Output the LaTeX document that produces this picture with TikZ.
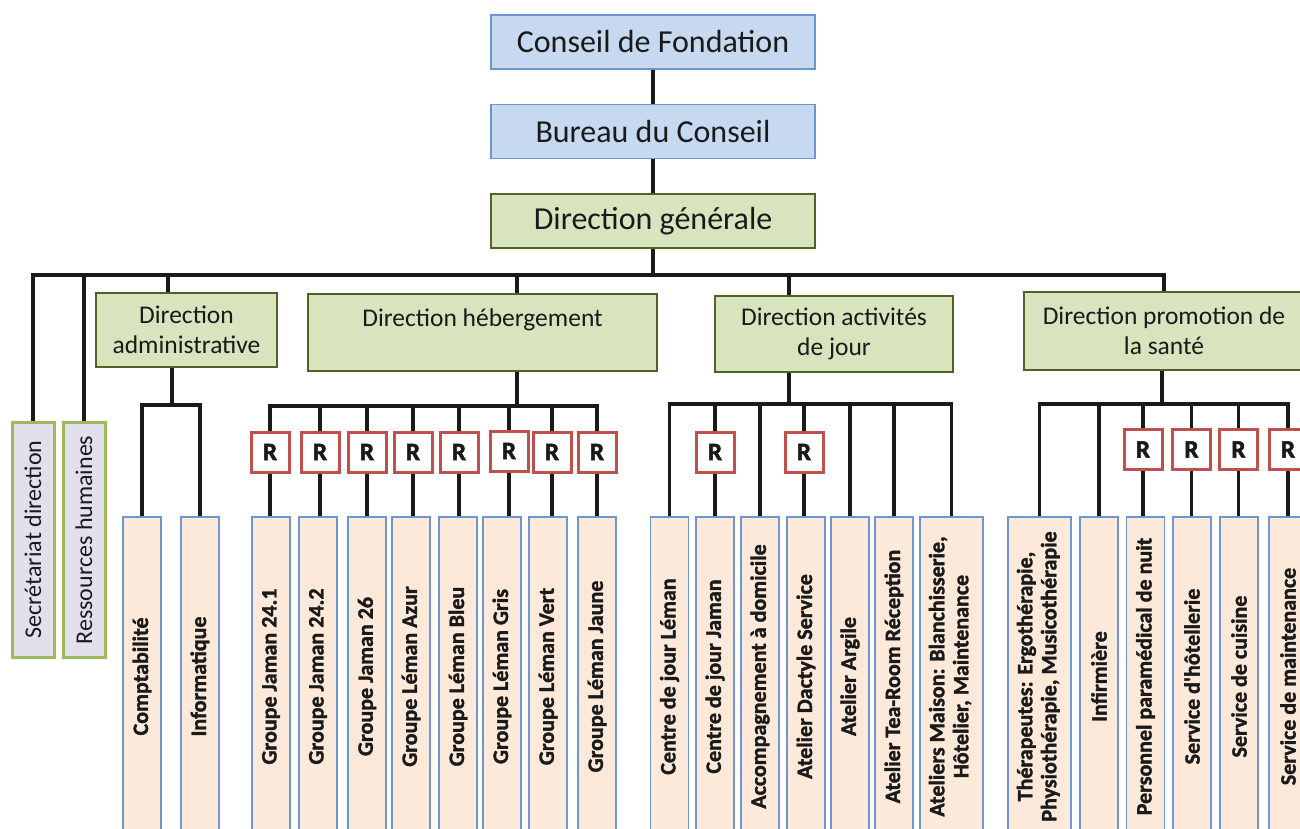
\documentclass[tikz,border=0pt]{standalone}
\usepackage{fontspec}
\setmainfont{Carlito}
\newfontfamily\unitfont{Carlito}[BoldFeatures={FakeBold=1.6}]
\newfontfamily\markfont{Carlito}[BoldFeatures={FakeBold=2.2}]
\usepackage{graphicx}
\definecolor{boardfill}{HTML}{C6D9F1}
\definecolor{boardline}{HTML}{6D94CC}
\definecolor{headfill}{HTML}{D7E4BD}
\definecolor{headline}{HTML}{4F6228}
\definecolor{stafffill}{HTML}{E4DFEC}
\definecolor{staffline}{HTML}{9BBB59}
\definecolor{unitfill}{HTML}{FDE9D9}
\definecolor{unitline}{HTML}{6E96CF}
\definecolor{rline}{HTML}{C0504D}
\definecolor{txt}{HTML}{1A1A1A}

\begin{document}
\begin{tikzpicture}[x=1pt,y=-1pt,
  board/.style={draw=boardline,fill=boardfill,line width=1.2pt,minimum width=324pt,minimum height=54pt,inner sep=0pt,font=\fontsize{32}{38}\selectfont,text=txt},
  chief/.style={board,draw=headline,fill=headfill,line width=2.5pt},
  headbox/.style={draw=headline,fill=headfill,line width=2.5pt,inner sep=0pt,align=center,font=\fontsize{25.5}{30}\selectfont,text=txt},
  staffbox/.style={draw=staffline,fill=stafffill,line width=3pt,minimum width=42pt,minimum height=235pt,inner sep=0pt,font=\fontsize{24}{29}\selectfont,text=txt},
  unitbox/.style={draw=unitline,fill=unitfill,line width=1.2pt,minimum width=38pt,minimum height=319pt,inner sep=0pt,font=\unitfont\bfseries\fontsize{22}{24}\selectfont,text=txt},
  rbox/.style={draw=rline,fill=white,line width=3pt,minimum width=38pt,minimum height=40pt,inner sep=0pt,font=\markfont\bfseries\fontsize{25}{28}\selectfont,text=txt},
  link/.style={line width=3.5pt,draw=txt}]
  \useasboundingbox[fill=white] (0,0) rectangle (1300,829);

  \node[board] (cf) at (653,42) {Conseil de Fondation};
  \node[board] (bc) at (653,131.5) {Bureau du Conseil};
  \node[chief] (dg) at (653,221) {Direction générale};

  \node[headbox,minimum width=181pt,minimum height=74pt] (adm) at (186.5,330) {Direction\\administrative};
  \node[headbox,minimum width=349pt,minimum height=77pt] (heb) at (482.5,332.5) {Direction hébergement\\~};
  \node[headbox,minimum width=238pt,minimum height=76pt] (act) at (834,334) {Direction activités\\de jour};
  \node[headbox,minimum width=280pt,minimum height=78pt] (pro) at (1164,331) {Direction promotion de\\la santé};

  \node[staffbox] (sec) at (33,539.5) {\rotatebox{90}{Secrétariat direction}};
  \node[staffbox] (rh) at (84,540) {\rotatebox{90}{Ressources humaines}};

  \node[unitbox] (compta) at (142,676.5) {\rotatebox{90}{Comptabilité}};
  \node[unitbox] (info) at (200,676.5) {\rotatebox{90}{Informatique}};

  \node[unitbox] (jaman1) at (271,676.5) {\rotatebox{90}{Groupe Jaman 24.1}};
  \node[unitbox] (jaman2) at (318,676.5) {\rotatebox{90}{Groupe Jaman 24.2}};
  \node[unitbox] (jaman3) at (367,676.5) {\rotatebox{90}{Groupe Jaman 26}};
  \node[unitbox] (azur) at (411,676.5) {\rotatebox{90}{Groupe Léman Azur}};
  \node[unitbox] (bleu) at (458,676.5) {\rotatebox{90}{Groupe Léman Bleu}};
  \node[unitbox] (gris) at (502,676.5) {\rotatebox{90}{Groupe Léman Gris}};
  \node[unitbox] (vert) at (548,676.5) {\rotatebox{90}{Groupe Léman Vert}};
  \node[unitbox] (jaune) at (597,676.5) {\rotatebox{90}{Groupe Léman Jaune}};
  \node[rbox] (rjaman1) at (270,452) {R};
  \node[rbox] (rjaman2) at (320,452) {R};
  \node[rbox] (rjaman3) at (367,452) {R};
  \node[rbox] (razur) at (413,452) {R};
  \node[rbox] (rbleu) at (459,452) {R};
  \node[rbox] (rgris) at (509,451) {R};
  \node[rbox] (rvert) at (552,452) {R};
  \node[rbox] (rjaune) at (597,452) {R};

  \node[unitbox] (cjleman) at (669.5,676.5) {\rotatebox{90}{Centre de jour Léman}};
  \node[unitbox] (cjjaman) at (715,676.5) {\rotatebox{90}{Centre de jour Jaman}};
  \node[unitbox] (domicile) at (760,676.5) {\rotatebox{90}{Accompagnement à domicile}};
  \node[unitbox] (dactyle) at (806,676.5) {\rotatebox{90}{Atelier Dactyle Service}};
  \node[unitbox] (argile) at (850,676.5) {\rotatebox{90}{Atelier Argile}};
  \node[unitbox] (tearoom) at (894,676.5) {\rotatebox{90}{Atelier Tea-Room Réception}};
  \node[unitbox,minimum width=63pt] (maison) at (951.5,676.5) {\rotatebox{90}{\begin{tabular}{@{}c@{}}Ateliers Maison: Blanchisserie,\\Hôtelier, Maintenance\end{tabular}}};
  \node[rbox] (rcjjaman) at (715,452) {R};
  \node[rbox] (rdactyle) at (804,452) {R};

  \node[unitbox,minimum width=63pt] (therap) at (1039.5,676.5) {\rotatebox{90}{\begin{tabular}{@{}c@{}}Thérapeutes: Ergothérapie,\\Physiothérapie, Musicothérapie\end{tabular}}};
  \node[unitbox] (infirm) at (1099,676.5) {\rotatebox{90}{Infirmière}};
  \node[unitbox] (nuit) at (1145.5,676.5) {\rotatebox{90}{Personnel paramédical de nuit}};
  \node[unitbox] (hotel) at (1192,676.5) {\rotatebox{90}{Service d'hôtellerie}};
  \node[unitbox] (cuisine) at (1239,676.5) {\rotatebox{90}{Service de cuisine}};
  \node[unitbox] (maint) at (1288,676.5) {\rotatebox{90}{Service de maintenance}};
  \node[rbox] (rnuit) at (1143,449.5) {R};
  \node[rbox] (rhotel) at (1191.5,449.5) {R};
  \node[rbox] (rcuisine) at (1238.5,449.5) {R};
  \node[rbox] (rmaint) at (1288,449.5) {R};

  \coordinate (bus) at (0,275);
  \coordinate (admtop) at (168,275);
  \coordinate (hebtop) at (517,275);
  \coordinate (acttop) at (789,275);
  \coordinate (admsub) at (172,405);
  \coordinate (hebsub) at (517,406);
  \coordinate (actsub) at (789,404);
  \coordinate (prosub) at (1162,404);

  \draw[link] (cf.south) -- (bc.north);
  \draw[link] (bc.south) -- (dg.north);
  \draw[link] (dg.south) -- (dg.south |- bus);
  \draw[link] (sec.north) |- (pro.north |- bus) -- (pro.north);
  \draw[link] (rh.north) -- (rh.north |- bus);
  \draw[link] (admtop) -- (adm.north -| admtop);
  \draw[link] (hebtop) -- (heb.north -| hebtop);
  \draw[link] (acttop) -- (act.north -| acttop);

  \draw[link] (adm.south -| admsub) -- (admsub);
  \draw[link] (compta.north) |- (info.north |- admsub) -- (info.north);

  \draw[link] (heb.south -| hebsub) -- (hebsub);
  \draw[link] (rjaman1.north) |- (rjaune.north |- hebsub) -- (rjaune.north);
  \draw[link] (rjaman2.north) -- (rjaman2.north |- hebsub);
  \draw[link] (rjaman3.north) -- (rjaman3.north |- hebsub);
  \draw[link] (razur.north) -- (razur.north |- hebsub);
  \draw[link] (rbleu.north) -- (rbleu.north |- hebsub);
  \draw[link] (rgris.north) -- (rgris.north |- hebsub);
  \draw[link] (rvert.north) -- (rvert.north |- hebsub);
  \draw[link] (rjaman1.south) -- (rjaman1.south |- jaman1.north);
  \draw[link] (rjaman2.south) -- (rjaman2.south |- jaman2.north);
  \draw[link] (rjaman3.south) -- (rjaman3.south |- jaman3.north);
  \draw[link] (razur.south) -- (razur.south |- azur.north);
  \draw[link] (rbleu.south) -- (rbleu.south |- bleu.north);
  \draw[link] (rgris.south) -- (rgris.south |- gris.north);
  \draw[link] (rvert.south) -- (rvert.south |- vert.north);
  \draw[link] (rjaune.south) -- (rjaune.south |- jaune.north);

  \draw[link] (act.south -| actsub) -- (actsub);
  \draw[link] (cjleman.north) |- (maison.north |- actsub) -- (maison.north);
  \draw[link] (rcjjaman.north) -- (rcjjaman.north |- actsub);
  \draw[link] (rcjjaman.south) -- (rcjjaman.south |- cjjaman.north);
  \draw[link] (domicile.north) -- (domicile.north |- actsub);
  \draw[link] (rdactyle.north) -- (rdactyle.north |- actsub);
  \draw[link] (rdactyle.south) -- (rdactyle.south |- dactyle.north);
  \draw[link] (argile.north) -- (argile.north |- actsub);
  \draw[link] (tearoom.north) -- (tearoom.north |- actsub);

  \draw[link] (pro.south -| prosub) -- (prosub);
  \draw[link] (therap.north) |- (rmaint.north |- prosub) -- (rmaint.north);
  \draw[link] (infirm.north) -- (infirm.north |- prosub);
  \draw[link] (rnuit.north) -- (rnuit.north |- prosub);
  \draw[link] (rhotel.north) -- (rhotel.north |- prosub);
  \draw[link] (rcuisine.north) -- (rcuisine.north |- prosub);
  \draw[link] (rnuit.south) -- (rnuit.south |- nuit.north);
  \draw[link] (rhotel.south) -- (rhotel.south |- hotel.north);
  \draw[link] (rcuisine.south) -- (rcuisine.south |- cuisine.north);
  \draw[link] (rmaint.south) -- (rmaint.south |- maint.north);
\end{tikzpicture}
\end{document}
